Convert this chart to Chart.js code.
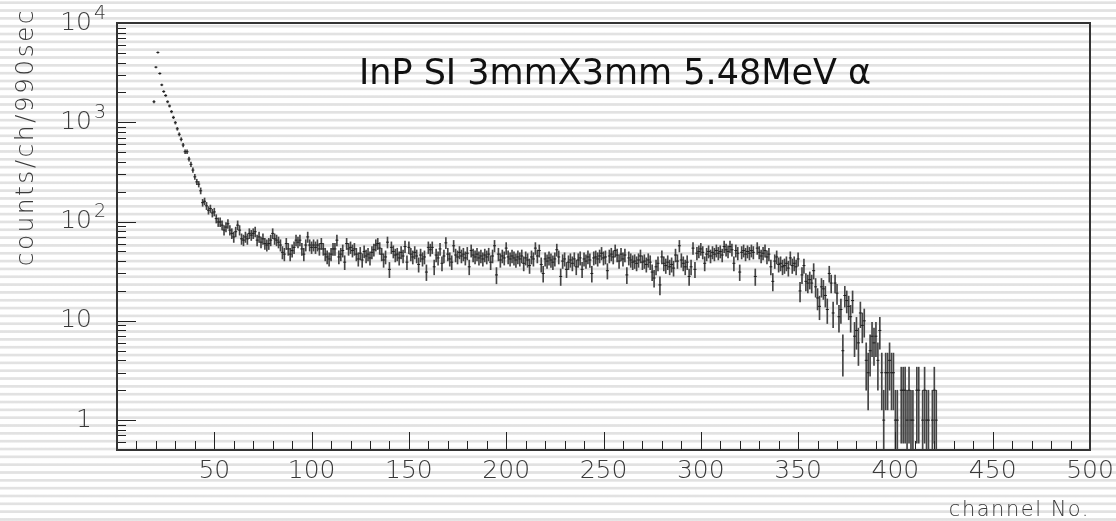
<!DOCTYPE html>
<html>
<head>
<meta charset="utf-8">
<script src="https://cdn.jsdelivr.net/npm/chart.js@4.4.1/dist/chart.umd.min.js"></script>
<style>
  html, body { margin: 0; padding: 0; }
  body {
    width: 1116px; height: 521px; overflow: hidden;
    background-color: #fff;
    background-image: repeating-linear-gradient(to bottom,
      #ffffff 0px, #ffffff 0.9px, #e2e2e2 1.8px, #e2e2e2 3.6px, #ffffff 4.5px, #ffffff 7.83px);
  }
  #wrap { position: absolute; left: 0; top: 0; width: 1116px; height: 521px; }
</style>
</head>
<body>
<div id="wrap"><canvas id="spec" width="1116" height="521"></canvas></div>
<script>
// Alpha spectrum, InP SI detector: counts per channel over 990 s
const TITLE = 'InP SI 3mmX3mm 5.48MeV \u03b1';
const X_TITLE = 'channel No.';
const Y_TITLE = 'counts/ch/990sec';

const FIRST_CHANNEL = 19;
const counts = [
  1610, 3590, 5050, 3100, 2380, 2040, 1860, 1610, 1460, 1280,
  1120, 990, 860, 757, 674, 590, 505, 505, 426, 377,
  330, 282, 251, 238, 204, 155, 160, 144, 130, 135,
  122, 125, 107, 99, 99, 92, 82, 88, 95, 82,
  76, 70, 79, 92, 82, 67, 65, 70, 67, 76,
  73, 76, 79, 65, 70, 62, 67, 60, 58, 60,
  65, 76, 67, 65, 62, 58, 49, 47, 60, 53,
  47, 51, 55, 65, 62, 65, 53, 47, 58, 70,
  58, 55, 58, 55, 58, 53, 60, 53, 47, 44,
  42, 47, 53, 53, 65, 44, 47, 51, 39, 60,
  53, 55, 51, 53, 47, 42, 48, 41, 50, 45,
  47, 43, 49, 52, 58, 60, 54, 47, 41, 44,
  62, 33, 55, 50, 46, 47, 43, 49, 45, 56,
  39, 55, 47, 44, 49, 45, 37, 46, 42, 44,
  31, 55, 52, 55, 35, 46, 43, 53, 38, 45,
  61, 47, 42, 39, 57, 46, 44, 49, 45, 47,
  43, 48, 35, 51, 46, 44, 47, 43, 45, 42,
  46, 44, 47, 39, 45, 57, 29, 47, 41, 45,
  43, 54, 44, 42, 45, 43, 41, 44, 42, 45,
  38, 43, 41, 36, 44, 42, 54, 45, 51, 37,
  30, 42, 40, 43, 41, 39, 42, 52, 44, 28,
  40, 42, 33, 39, 41, 38, 42, 35, 41, 43,
  33, 42, 40, 44, 41, 30, 43, 44, 42, 45,
  48, 43, 44, 32, 45, 47, 44, 51, 46, 40,
  47, 42, 46, 29, 43, 41, 39, 40, 38, 41,
  45, 39, 40, 37, 41, 39, 31, 27, 35, 38,
  23, 44, 38, 36, 39, 35, 37, 34, 46, 40,
  57, 41, 38, 35, 39, 28, 35, 54, 33, 48,
  50, 53, 49, 38, 47, 50, 45, 49, 47, 51,
  48, 50, 46, 56, 52, 50, 56, 52, 38, 51,
  48, 31, 49, 51, 47, 50, 48, 51, 49, 28,
  54, 49, 45, 48, 51, 44, 47, 35, 25, 40,
  44, 37, 38, 35, 36, 38, 34, 43, 36, 38,
  35, 42, 20, 29, 36, 25, 24, 26, 24, 32,
  22, 17, 14, 22, 21, 18, 13, 30, 24, 12,
  24, 19, 11, 13, 5, 18, 16, 14, 11, 16,
  7, 8, 6, 12, 9, 10, 4, 3, 5, 7,
  6, 7, 4, 8, 3, 1, 3, 3, 4, 3,
  3, 1, 1, 0, 2, 2, 2, 1, 2, 1,
  1, 0, 2, 2, 0, 1, 2, 1, 1, 0,
  1, 2, 1
];

const X_MIN = 0, X_MAX = 500;
const Y_MIN = 0.5, Y_MAX = 10000;
const X_TICK_VALUES = [50, 100, 150, 200, 250, 300, 350, 400, 450, 500];
const X_TICK_LABELS = ['50', '100', '150', '200', '250', '300', '350', '400', '450', '500'];
const Y_TICK_VALUES = [1, 10, 100, 1000, 10000];
const Y_TICK_BASES = ['1', '10', '10', '10', '10'];
const Y_TICK_EXPONENTS = ['', '', '2', '3', '4'];

// filled bins only; errors are Poisson sqrt(N)
const markers = [];
const errorBars = [];
counts.forEach((n, i) => {
  if (n <= 0) return;
  const ch = FIRST_CHANNEL + i;
  const e = Math.sqrt(n);
  markers.push({ x: ch, y: n });
  errorBars.push({ x: ch, y: [Math.max(n - e, Y_MIN), n + e] });
});

const LABEL_FONT = '"DejaVu Sans", "Liberation Sans", sans-serif';

function drawSpaced(ctx, text, x, y, font, spacing, align) {
  ctx.font = font;
  ctx.letterSpacing = spacing + 'px';
  ctx.textAlign = align;
  ctx.fillText(text, x, y);
  ctx.letterSpacing = '0px';
}

const frameAndLabels = {
  id: 'frameAndLabels',
  afterDatasetsDraw(chart) {
    const { ctx, chartArea: a, scales: { x, y } } = chart;
    ctx.save();

    // inward tick marks
    ctx.strokeStyle = '#222';
    ctx.lineWidth = 1;
    ctx.beginPath();
    for (let v = X_MIN; v <= X_MAX; v += 10) {
      const px = Math.round(x.getPixelForValue(v)) + 0.5;
      const len = v % 50 === 0 ? 18 : 9;
      ctx.moveTo(px, a.bottom);
      ctx.lineTo(px, a.bottom - len);
    }
    for (let k = -1; k <= 4; k++) {
      for (let m = 1; m <= 9; m++) {
        const v = m * Math.pow(10, k);
        if (v < Y_MIN || v > Y_MAX) continue;
        const py = Math.round(y.getPixelForValue(v)) + 0.5;
        const len = m === 1 ? 19 : 9;
        ctx.moveTo(a.left, py);
        ctx.lineTo(a.left + len, py);
      }
    }
    ctx.stroke();

    // frame
    ctx.strokeStyle = '#333';
    ctx.lineWidth = 2;
    ctx.strokeRect(a.left, a.top, a.right - a.left, a.bottom - a.top);

    // tick labels
    ctx.fillStyle = '#3a3a3a';
    ctx.textBaseline = 'middle';
    X_TICK_VALUES.forEach((v, i) => {
      drawSpaced(ctx, X_TICK_LABELS[i], x.getPixelForValue(v), 471, '200 25px ' + LABEL_FONT, 0, 'center');
    });
    Y_TICK_VALUES.forEach((v, i) => {
      const py = y.getPixelForValue(v);
      drawSpaced(ctx, Y_TICK_BASES[i], 92, py, '200 25px ' + LABEL_FONT, 0, 'right');
      if (Y_TICK_EXPONENTS[i]) {
        drawSpaced(ctx, Y_TICK_EXPONENTS[i], 94, py - 9, '200 19px ' + LABEL_FONT, 0, 'left');
      }
    });

    // axis titles
    ctx.textBaseline = 'alphabetic';
    drawSpaced(ctx, X_TITLE, 1090, 516, '200 21px ' + LABEL_FONT, 1.5, 'right');
    ctx.save();
    ctx.translate(33, 8);
    ctx.rotate(-Math.PI / 2);
    drawSpaced(ctx, Y_TITLE, 0, 0, '200 25px ' + LABEL_FONT, 2.4, 'right');
    ctx.restore();

    // histogram title
    ctx.fillStyle = '#111';
    drawSpaced(ctx, TITLE, 615, 84, '35px ' + LABEL_FONT, 0, 'center');

    ctx.restore();
  }
};

new Chart(document.getElementById('spec'), {
  type: 'bar',
  data: {
    datasets: [
      {
        type: 'bar',
        data: errorBars,
        backgroundColor: '#444444',
        borderWidth: 0,
        barThickness: 1,
        grouped: false,
        order: 2
      },
      {
        type: 'scatter',
        data: markers,
        pointStyle: 'line',
        pointRadius: 1.5,
        borderColor: '#1e1e1e',
        borderWidth: 1,
        order: 1
      }
    ]
  },
  options: {
    responsive: false,
    animation: false,
    devicePixelRatio: 1,
    layout: { padding: { top: 23, right: 26, left: 0, bottom: 0 } },
    plugins: { legend: { display: false }, tooltip: { enabled: false } },
    scales: {
      x: {
        type: 'linear', min: X_MIN, max: X_MAX, offset: false,
        grid: { display: false }, border: { display: false },
        ticks: { display: false },
        afterFit(s) { s.height = 71; }
      },
      y: {
        type: 'logarithmic', min: Y_MIN, max: Y_MAX,
        grid: { display: false }, border: { display: false },
        ticks: { display: false },
        afterFit(s) { s.width = 117; }
      }
    }
  },
  plugins: [frameAndLabels]
});
</script>
</body>
</html>
